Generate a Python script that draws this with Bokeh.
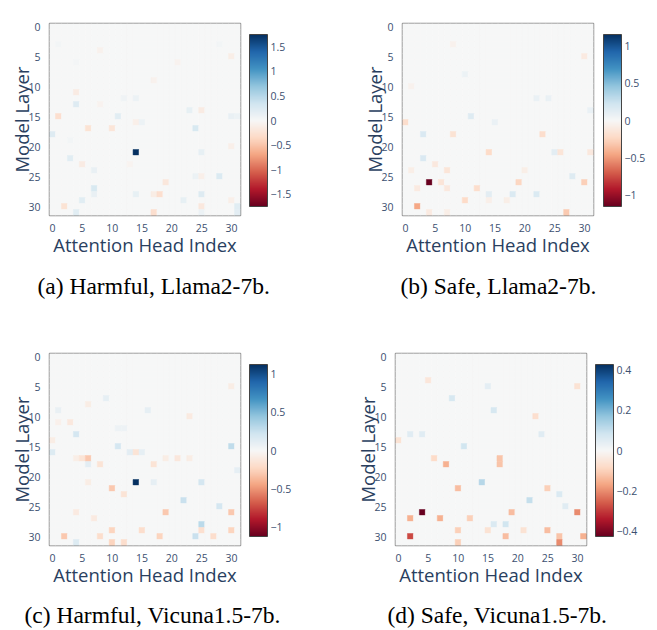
import numpy as np
from bokeh.plotting import figure
from bokeh.models import (ColumnDataSource, LinearColorMapper, ColorBar, FixedTicker,
                          Range1d, Title, CustomJSTickFormatter)
from bokeh.layouts import column, row
from bokeh.embed import file_html
from bokeh.resources import INLINE
from bokeh.transform import transform

N_LAYERS = 32
N_HEADS = 32
axis_ticks = [0, 5, 10, 15, 20, 25, 30]

# ---- panel (a) Harmful, Llama2-7b : notable cells (layer, head, value), others ~0
a_layers = [21, 15, 13, 18, 17, 17, 15, 11, 17, 14, 14, 15, 15, 22, 23, 24, 27, 28, 26, 28,
            28, 28, 28, 29, 29, 30, 31, 31, 30, 31, 30, 31, 25, 21, 20, 5, 12, 16, 16, 9,
            25, 25, 29, 12, 4, 3, 6, 3, 6, 13, 19, 23]
a_heads = [14, 1, 4, 0, 6, 10, 11, 4, 24, 23, 25, 30, 31, 3, 5, 7, 7, 7, 19, 18,
           17, 14, 25, 22, 5, 2, 4, 17, 25, 25, 31, 31, 28, 25, 30, 30, 14, 15, 14, 17,
           24, 25, 30, 12, 8, 1, 21, 28, 4, 8, 3, 13]
a_vals = [1.755, -0.30, 0.22, 0.22, -0.25, -0.22, 0.20, -0.15, 0.28, 0.15, -0.15, 0.13, 0.10,
          0.20, -0.15, 0.13, 0.28, 0.13, -0.20, -0.30, -0.13, 0.15, 0.22, 0.15, 0.20, -0.25,
          0.20, -0.30, -0.18, 0.10, 0.20, 0.18, 0.25, 0.15, -0.10, -0.12, 0.10, 0.10, -0.10,
          -0.08, 0.10, -0.10, -0.10, 0.07, -0.07, 0.05, -0.06, 0.05, 0.04, -0.06, 0.05, -0.05]
a_cbar_ticks = [-1.5, -1, -0.5, 0, 0.5, 1, 1.5]

# ---- panel (b) Safe, Llama2-7b
b_layers = [26, 30, 16, 18, 22, 15, 18, 21, 26, 28, 28, 26, 25, 31, 18, 5, 29, 27, 28, 21,
            21, 21, 14, 24, 27, 23, 24, 26, 27, 31, 31, 16, 8, 12, 12, 24, 29, 29, 3, 10]
b_heads = [4, 2, 0, 3, 3, 11, 8, 14, 19, 18, 22, 30, 28, 27, 23, 30, 10, 12, 14, 26,
           25, 31, 31, 1, 2, 5, 7, 6, 7, 4, 7, 15, 10, 22, 24, 20, 17, 14, 8, 1]
b_vals = [-1.157, -0.45, -0.20, 0.18, 0.18, 0.15, -0.17, -0.22, -0.25, 0.17, 0.17, -0.28,
          0.15, -0.30, -0.20, -0.10, -0.22, -0.20, 0.12, -0.15, 0.12, -0.12, 0.08, -0.08,
          -0.10, -0.12, -0.15, -0.15, -0.12, -0.10, -0.08, 0.08, 0.07, 0.08, 0.08, -0.08,
          -0.08, -0.07, -0.05, -0.05]
b_cbar_ticks = [-1, -0.5, 0, 0.5, 1]

# ---- panel (c) Harmful, Vicuna1.5-7b
c_layers = [21, 22, 17, 17, 13, 15, 16, 14, 16, 16, 16, 24, 21, 28, 15, 19, 25, 26, 26, 30,
            29, 29, 31, 30, 30, 31, 30, 29, 30, 29, 31, 23, 18, 17, 18, 18, 9, 7, 11, 10,
            9, 8, 5, 21, 21, 26, 27, 17, 17, 17, 11, 12, 12]
c_heads = [14, 10, 6, 5, 4, 11, 0, 0, 13, 14, 15, 22, 25, 25, 30, 31, 28, 30, 19, 18,
           15, 10, 10, 2, 8, 4, 24, 25, 27, 30, 12, 12, 17, 21, 6, 8, 16, 9, 3, 23,
           1, 6, 30, 17, 6, 4, 7, 19, 23, 4, 1, 11, 12]
c_vals = [1.117, -0.30, -0.30, -0.15, 0.20, 0.20, 0.15, -0.08, 0.12, -0.15, 0.10, 0.25,
          0.20, 0.30, 0.28, 0.10, 0.20, -0.30, -0.30, -0.25, -0.20, -0.25, -0.25, -0.30,
          -0.20, 0.15, 0.25, -0.18, -0.20, -0.25, -0.20, -0.15, -0.15, -0.13, 0.12, -0.15,
          0.10, 0.10, -0.12, -0.10, 0.08, -0.08, -0.08, 0.10, -0.08, -0.10, -0.10, -0.08,
          -0.08, -0.07, -0.06, 0.06, 0.06]
c_cbar_ticks = [-1, -0.5, 0, 0.5, 1]

# ---- panel (d) Safe, Vicuna1.5-7b
d_layers = [26, 30, 27, 27, 18, 22, 21, 15, 9, 7, 24, 26, 26, 28, 28, 30, 31, 30, 29, 30,
            17, 18, 29, 27, 17, 22, 23, 25, 29, 13, 13, 14, 10, 13, 5, 5, 4, 31, 29]
d_heads = [4, 2, 2, 7, 8, 10, 14, 11, 16, 9, 22, 19, 30, 18, 16, 18, 27, 27, 25, 31,
           17, 17, 10, 12, 6, 25, 27, 28, 21, 2, 4, 0, 23, 24, 30, 15, 5, 10, 15]
d_vals = [-0.425, -0.28, -0.15, -0.15, -0.15, -0.13, 0.12, 0.08, 0.07, 0.07, 0.10, -0.13,
          -0.20, 0.08, 0.06, -0.13, -0.20, -0.12, -0.13, -0.15, -0.12, -0.12, -0.10, -0.10,
          -0.08, -0.10, 0.06, 0.05, -0.06, 0.05, 0.05, -0.06, -0.07, 0.05, -0.06, 0.04,
          -0.05, -0.10, -0.06]
d_cbar_ticks = [-0.4, -0.2, 0, 0.2, 0.4]

captions = ["(a) Harmful, Llama2-7b.", "(b) Safe, Llama2-7b.",
            "(c) Harmful, Vicuna1.5-7b.", "(d) Safe, Vicuna1.5-7b."]

RDBU = ['#67001f', '#b2182b', '#d6604d', '#f4a582', '#fddbc7', '#f7f7f7',
        '#d1e5f0', '#92c5de', '#4393c3', '#2166ac', '#053061']


def interp_palette(colors, n=256):
    rgb = np.array([[int(c[i:i + 2], 16) for i in (1, 3, 5)] for c in colors], float)
    pos = np.linspace(0, 1, len(colors))
    t = np.linspace(0, 1, n)
    ch = [np.interp(t, pos, rgb[:, k]) for k in range(3)]
    return ['#%02x%02x%02x' % (int(round(ch[0][i])), int(round(ch[1][i])), int(round(ch[2][i])))
            for i in range(n)]


PAL = interp_palette(RDBU)
TITLE_C = "#2a3f5f"
TICK_C = "#3c5070"


def make_panel(layers, heads, vals, cb_ticks, caption,
               left, right, top, bottom, cb_x, cap_offset, cap_standoff):
    Z = np.zeros((N_LAYERS, N_HEADS))
    Z[np.array(layers), np.array(heads)] = np.array(vals)
    lim = float(np.abs(Z).max())
    mapper = LinearColorMapper(palette=PAL, low=-lim, high=lim)
    hh, ll = np.meshgrid(np.arange(N_HEADS), np.arange(N_LAYERS))
    src = ColumnDataSource(dict(x=hh.ravel(), y=ll.ravel(), v=Z.ravel()))
    p = figure(frame_width=191, frame_height=192,
               min_border_left=left, min_border_right=right,
               min_border_top=top, min_border_bottom=bottom,
               x_range=Range1d(-0.5, N_HEADS - 0.5), y_range=Range1d(N_LAYERS - 0.5, -0.5),
               output_backend="svg", toolbar_location=None, tools="")
    p.rect('x', 'y', 1, 1, source=src, fill_color=transform('v', mapper),
           line_color=transform('v', mapper), line_width=0.5)
    p.grid.visible = False
    p.outline_line_color = "#8a8a8a"
    p.outline_line_width = 1.5
    p.background_fill_color = "white"
    p.border_fill_color = "white"
    for ax in (p.xaxis[0], p.yaxis[0]):
        ax.ticker = FixedTicker(ticks=axis_ticks)
        ax.major_tick_line_color = None
        ax.minor_tick_line_color = None
        ax.axis_line_color = None
        ax.major_label_text_font = "Open Sans"
        ax.major_label_text_font_size = "10.5px"
        ax.major_label_text_color = TICK_C
        ax.axis_label_text_font = "Open Sans"
        ax.axis_label_text_font_size = "18.5px"
        ax.axis_label_text_color = TITLE_C
        ax.axis_label_text_font_style = "normal"
    p.xaxis.major_label_standoff = 2
    p.xaxis.axis_label_standoff = -3
    p.yaxis.major_label_standoff = 3
    p.yaxis.axis_label_standoff = -9
    p.xaxis.axis_label = "Attention Head Index"
    p.yaxis.axis_label = "Model Layer"

    cb = ColorBar(color_mapper=mapper, ticker=FixedTicker(ticks=cb_ticks),
                  formatter=CustomJSTickFormatter(
                      code="return tick < 0 ? '\u2212' + (-tick) : '' + tick;"),
                  width=18, height=172, location=(cb_x, 9), padding=0, margin=0,
                  label_standoff=3, major_tick_line_color=None,
                  bar_line_color="#444444", bar_line_width=1,
                  border_line_color=None, background_fill_alpha=0,
                  major_label_text_font="Open Sans", major_label_text_font_size="10.5px",
                  major_label_text_color=TICK_C)
    p.add_layout(cb, "right")

    cap = Title(text=caption, align="left", offset=cap_offset, standoff=cap_standoff,
                text_font="Liberation Serif", text_font_size="23.5px",
                text_font_style="normal", text_color="black")
    p.add_layout(cap, "below")
    return p


pa = make_panel(a_layers, a_heads, a_vals, a_cbar_ticks, captions[0],
                49, 88, 23, 105, 9, -12, 23)
pb = make_panel(b_layers, b_heads, b_vals, b_cbar_ticks, captions[1],
                74, 64, 23, 105, 10, -2, 23)
pc = make_panel(c_layers, c_heads, c_vals, c_cbar_ticks, captions[2],
                49, 88, 33, 80, 9, -25, 21)
pd = make_panel(d_layers, d_heads, d_vals, d_cbar_ticks, captions[3],
                67, 71, 33, 80, 9, -8, 21)

layout = column(row(pa, pb), row(pc, pd))
open("out.html", "w").write(file_html(layout, INLINE))
